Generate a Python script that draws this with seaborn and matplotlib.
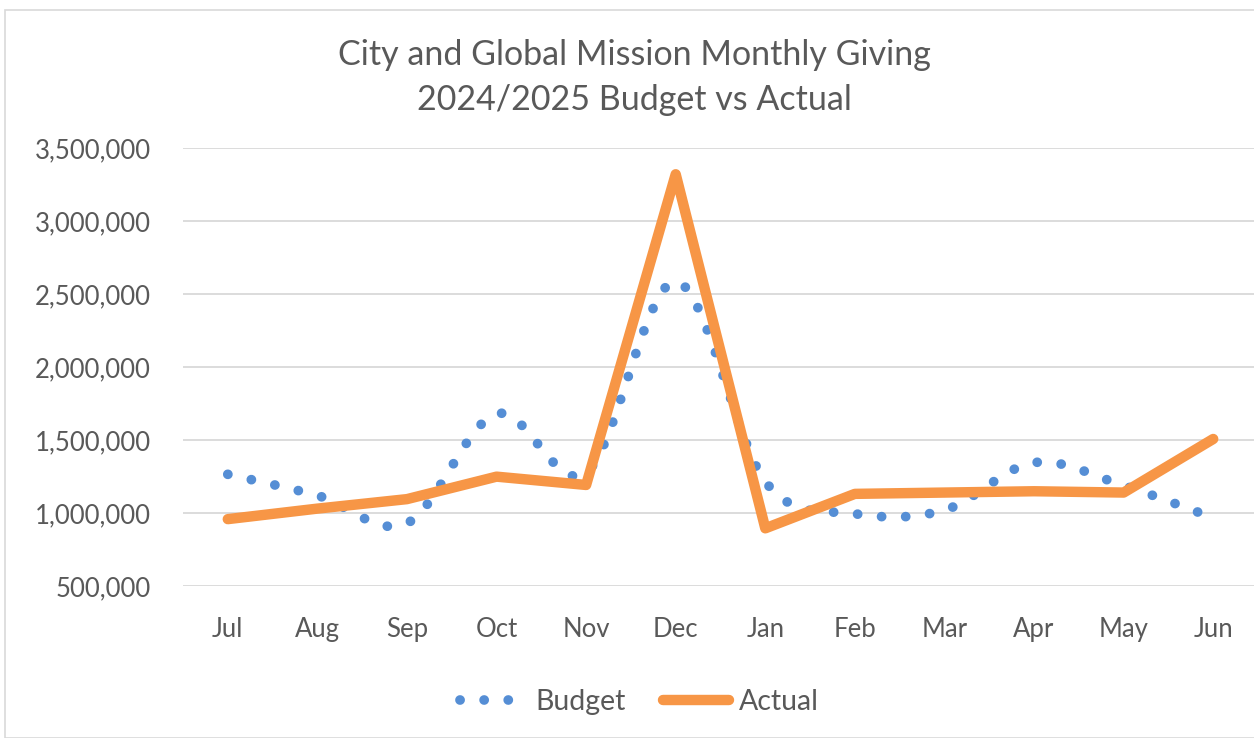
import numpy as np
import pandas as pd
import matplotlib
matplotlib.use("Agg")
import matplotlib.pyplot as plt
from matplotlib.path import Path
from matplotlib.patches import PathPatch, Rectangle
from matplotlib.lines import Line2D
from matplotlib.ticker import FuncFormatter
import seaborn as sns

months = ["Jul", "Aug", "Sep", "Oct", "Nov", "Dec", "Jan", "Feb", "Mar", "Apr", "May", "Jun"]
budget = [1265000, 1120000, 930000, 1680000, 1275000, 2585000, 1215000, 995000, 1020000, 1345000, 1188000, 967000]
actual = [958000, 1030000, 1095000, 1249000, 1192000, 3320000, 895000, 1131000, 1140000, 1149000, 1140000, 1507000]

blue = "#558ED5"
orange = "#F79646"
grey_text = "#595959"

sns.set_theme(style="white")
plt.rcParams["font.family"] = ["Lato", "DejaVu Sans"]

df = pd.DataFrame({"x": np.arange(len(months)), "Budget": budget, "Actual": actual})

fig = plt.figure(figsize=(12.54, 7.38), dpi=100)
fig.patches.append(Rectangle((5 / 1254, 0), 1.1, 1 - 10 / 738, transform=fig.transFigure,
                             fill=False, edgecolor="#D9D9D9", lw=1.2))

# plot area: x 183..1258 px, y 148..586 px
ax = fig.add_axes([183 / 1254, 1 - 586 / 738, 1075 / 1254, 438 / 738])

# budget: smoothed line (Excel style bezier through the monthly points)
xs = df["x"].to_numpy(float)
ys = df["Budget"].to_numpy(float)
pts = np.column_stack([xs, ys])
verts = [pts[0]]
codes = [Path.MOVETO]
for i in range(len(pts) - 1):
    p0 = pts[max(i - 1, 0)]
    p1 = pts[i]
    p2 = pts[i + 1]
    p3 = pts[min(i + 2, len(pts) - 1)]
    verts += [p1 + (p2 - p0) / 6, p2 - (p3 - p1) / 6, p2]
    codes += [Path.CURVE4] * 3
dot_lw = 7.0
dot_style = (0, (0.01, 2.47))
ax.add_patch(PathPatch(Path(verts, codes), fill=False, edgecolor=blue, lw=dot_lw,
                       linestyle=dot_style, capstyle="round", zorder=3))

sns.lineplot(data=df, x="x", y="Actual", ax=ax, color=orange, lw=7.5,
             solid_capstyle="round", solid_joinstyle="round", zorder=4)

ax.set_xlim(-0.5, 11.5)
ax.set_ylim(500000, 3500000)
ax.set_yticks(np.arange(500000, 3500001, 500000))
ax.yaxis.set_major_formatter(FuncFormatter(lambda v, p: f"{int(v):,}"))
ax.set_xticks(df["x"])
ax.set_xticklabels(months)
ax.grid(axis="y", color="#D9D9D9", lw=1.3)
ax.set_axisbelow(True)
for s in ax.spines.values():
    s.set_visible(False)
ax.tick_params(axis="both", length=0, labelsize=18.5, colors=grey_text)
ax.tick_params(axis="y", pad=23)
ax.tick_params(axis="x", pad=22)
ax.set_xlabel("")
ax.set_ylabel("")

fig.text(0.506, 1 - 55 / 738, "City and Global Mission Monthly Giving", ha="center", va="center",
         fontsize=24.5, color=grey_text)
fig.text(0.506, 1 - 100 / 738, "2024/2025 Budget vs Actual", ha="center", va="center",
         fontsize=24.5, color=grey_text)

handles = [Line2D([], [], color=blue, lw=dot_lw, linestyle=dot_style, dash_capstyle="round"),
           Line2D([], [], color=orange, lw=7.5, solid_capstyle="round")]
fig.legend(handles, ["Budget", "Actual"], loc="center", bbox_to_anchor=(0.51, 1 - 702 / 738),
           ncol=2, frameon=False, fontsize=20.5, labelcolor=grey_text, handlelength=2.3,
           handletextpad=0.35, columnspacing=1.3)

fig.savefig("out.png", dpi=100)
